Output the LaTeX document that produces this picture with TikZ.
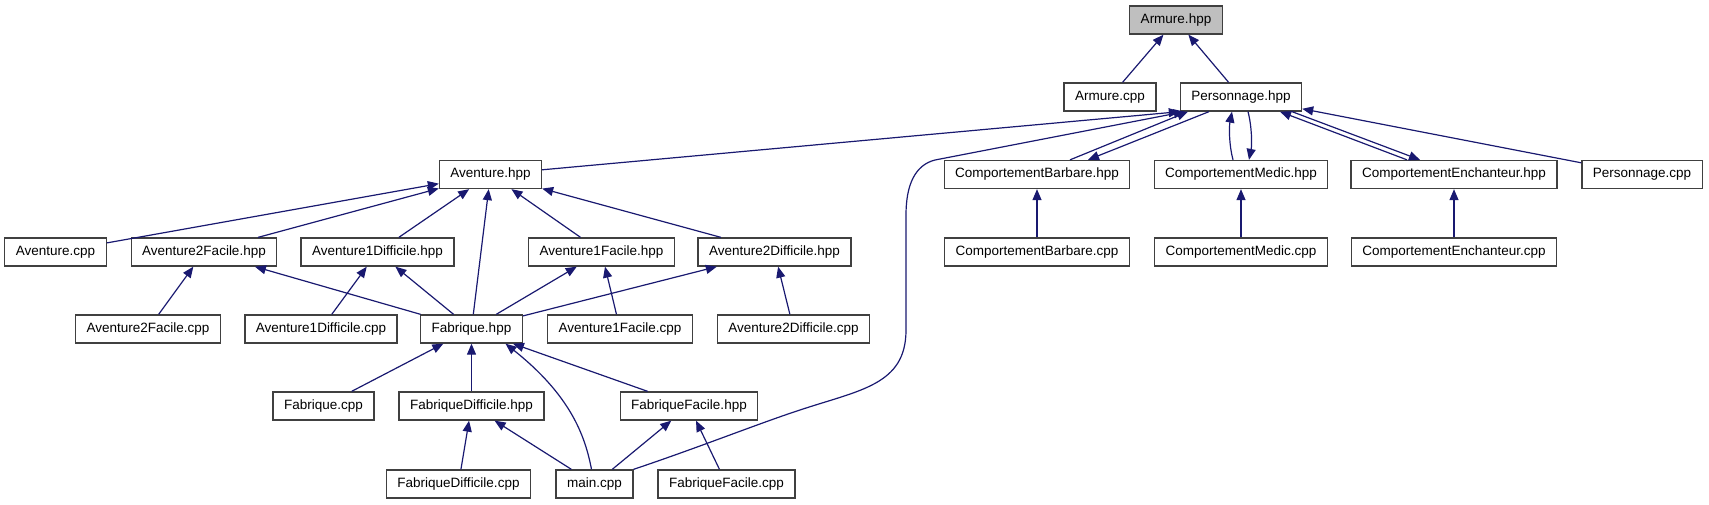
\documentclass[tikz,border=0pt]{standalone}
\usepackage{fontspec}
\setmainfont{Liberation Sans}
\usepackage{xcolor}
\usetikzlibrary{arrows.meta,positioning,calc}
\definecolor{edgeblue}{HTML}{191970}
\definecolor{curgray}{HTML}{BFBFBF}
\definecolor{boxline}{HTML}{404040}

\begin{document}
\begin{tikzpicture}[x=1pt, y=-1pt,
    file/.style={draw=boxline, line width=1.3pt, fill=white, minimum height=28pt,
        inner xsep=11pt, inner ysep=0pt, font=\fontsize{13.5}{16}\selectfont},
    cur/.style={file, fill=curgray},
    dep/.style={draw=edgeblue, line width=1.2pt, -{Triangle[length=11pt,width=9pt]}}]
    \useasboundingbox (0,0) rectangle (1709,504);
    \node[cur]  (arh)  at (1176,20)    {Armure.hpp};
    \node[file] (arc)  at (1110,97)    {Armure.cpp};
    \node[file] (per)  at (1241,97)    {Personnage.hpp};
    \node[file] (ave)  at (490.5,174.5) {Aventure.hpp};
    \node[file] (cbh)  at (1037,174.5) {ComportementBarbare.hpp};
    \node[file] (cmh)  at (1241,174.5) {ComportementMedic.hpp};
    \node[file] (ceh)  at (1454,174.5) {ComportementEnchanteur.hpp};
    \node[file] (pec)  at (1642,174.5) {Personnage.cpp};
    \node[file] (avc)  at (55.5,252)   {Aventure.cpp};
    \node[file] (a2fh) at (204,252)    {Aventure2Facile.hpp};
    \node[file] (a1dh) at (377.5,252)  {Aventure1Difficile.hpp};
    \node[file] (a1fh) at (601.5,252)  {Aventure1Facile.hpp};
    \node[file] (a2dh) at (774.5,252)  {Aventure2Difficile.hpp};
    \node[file] (cbc)  at (1037,252)   {ComportementBarbare.cpp};
    \node[file] (cmc)  at (1241,252)   {ComportementMedic.cpp};
    \node[file] (cec)  at (1454,252)   {ComportementEnchanteur.cpp};
    \node[file] (a2fc) at (148,329)    {Aventure2Facile.cpp};
    \node[file] (a1dc) at (321,329)    {Aventure1Difficile.cpp};
    \node[file] (fab)  at (471.5,329)  {Fabrique.hpp};
    \node[file] (a1fc) at (620,329)    {Aventure1Facile.cpp};
    \node[file] (a2dc) at (793.5,329)  {Aventure2Difficile.cpp};
    \node[file] (fac)  at (323.5,406)  {Fabrique.cpp};
    \node[file] (fdh)  at (471.5,406)  {FabriqueDifficile.hpp};
    \node[file] (ffh)  at (689,406)    {FabriqueFacile.hpp};
    \node[file] (fdc)  at (458.5,484)  {FabriqueDifficile.cpp};
    \node[file] (main) at (594.5,484)  {main.cpp};
    \node[file] (ffc)  at (726.5,484)  {FabriqueFacile.cpp};
    \draw[dep] (arc) -- (arh);
    \draw[dep] (per) -- (arh);
    \draw[dep] (ave) -- (per.south west);
    \draw[dep] (main.north east) .. controls (700,447) and (760,423) .. (800,410)
        .. controls (860,390) and (906,385) .. (906,330) -- (906,215)
        .. controls (906,185) and (915,165) .. (935,160) -- ([xshift=5]per.south west);
    \draw[dep] ([xshift=33]cbh.north) -- ([xshift=-53]per.south);
    \draw[dep] ([xshift=-32]per.south) -- ([xshift=51]cbh.north);
    \draw[dep] ([xshift=-8]cmh.north) .. controls (1229,145) and (1229,127) .. ([xshift=-9]per.south);
    \draw[dep] ([xshift=7]per.south) .. controls (1252,127) and (1252,145) .. ([xshift=8]cmh.north);
    \draw[dep] ([xshift=-47]ceh.north) -- ([xshift=39]per.south);
    \draw[dep] ([xshift=51]per.south) -- ([xshift=-34]ceh.north);
    \draw[dep] (pec) -- (per);
    \draw[dep] (cbc) -- (cbh);
    \draw[dep] (cmc) -- (cmh);
    \draw[dep] (cec) -- (ceh);
    \draw[dep] (avc) -- (ave);
    \draw[dep] (a2fh) -- (ave);
    \draw[dep] (a1dh) -- (ave);
    \draw[dep] (fab) -- (ave);
    \draw[dep] (a1fh) -- (ave);
    \draw[dep] (a2dh) -- (ave);
    \draw[dep] (a2fc) -- (a2fh);
    \draw[dep] (fab) -- (a2fh);
    \draw[dep] (a1dc) -- (a1dh);
    \draw[dep] (fab) -- (a1dh);
    \draw[dep] (fab) -- (a1fh);
    \draw[dep] (a1fc) -- (a1fh);
    \draw[dep] (fab) -- (a2dh);
    \draw[dep] (a2dc) -- (a2dh);
    \draw[dep] (fac) -- (fab);
    \draw[dep] (fdh) -- (fab);
    \draw[dep] ([xshift=-3]main.north) .. controls (585,435) and (570,395) .. ([xshift=34]fab.south);
    \draw[dep] (ffh) -- (fab);
    \draw[dep] (fdc) -- (fdh);
    \draw[dep] (main) -- (fdh);
    \draw[dep] (main) -- (ffh);
    \draw[dep] (ffc) -- (ffh);
\end{tikzpicture}
\end{document}
